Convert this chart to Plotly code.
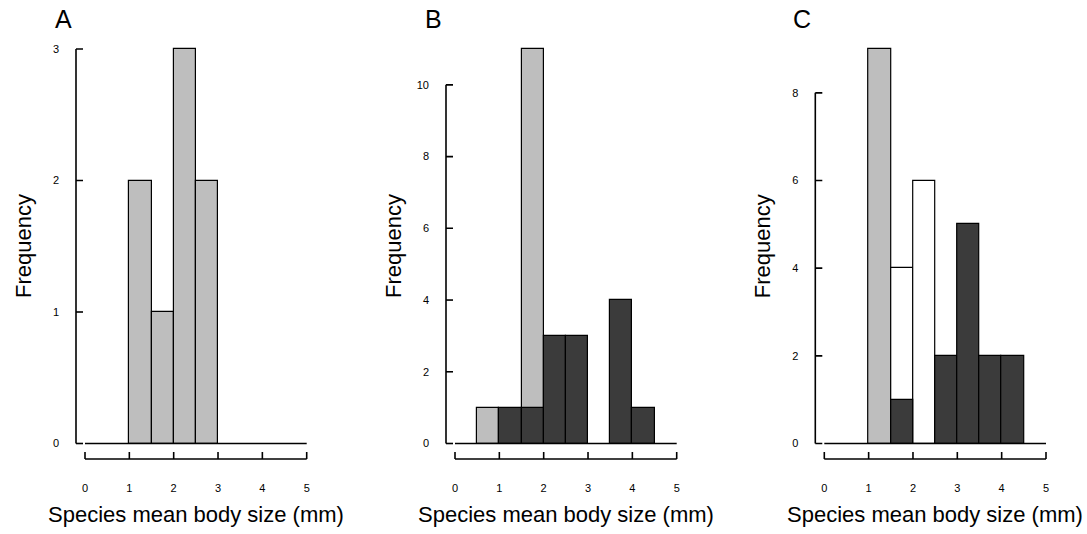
import plotly.graph_objects as go

# ---------------- data ----------------
bin_centers = [0.25, 0.75, 1.25, 1.75, 2.25, 2.75, 3.25, 3.75, 4.25, 4.75]
bin_width = 0.5
x_ticks = [0, 1, 2, 3, 4, 5]

a_grey = [0, 0, 2, 1, 3, 2, 0, 0, 0, 0]

b_grey = [0, 1, 0, 11, 0, 0, 0, 0, 0, 0]
b_dark = [0, 0, 1, 1, 3, 3, 0, 4, 1, 0]

c_grey = [0, 0, 9, 0, 0, 0, 0, 0, 0, 0]
c_white = [0, 0, 0, 4, 6, 0, 0, 0, 0, 0]
c_dark = [0, 0, 0, 1, 0, 2, 5, 2, 2, 0]

a_yticks = [0, 1, 2, 3]
b_yticks = [0, 2, 4, 6, 8, 10]
c_yticks = [0, 2, 4, 6, 8]

panel_labels = ["A", "B", "C"]
x_title = "Species mean body size (mm)"
y_title = "Frequency"

GREY = "#BEBEBE"
DARK = "#3B3B3B"
WHITE = "#FFFFFF"
FONT = "Liberation Sans, Arial, sans-serif"

# ---------------- layout geometry (pixels) ----------------
W, H = 1087, 534
x0_px = [85.0, 455.0, 824.3]   # pixel of x = 0 in each panel
sx = 44.34                     # px per x unit
y0_px = 443.5                  # pixel of y = 0
ytop_px = 49.0                 # pixel of the tallest bar
xaxis_px = 459.0               # x axis line pixel
yaxis_off = 9.0                # y axis line offset left of x = 0
ticklen = 7.0

panels = [
    dict(series=[(a_grey, GREY)], yticks=a_yticks),
    dict(series=[(b_grey, GREY), (b_dark, DARK)], yticks=b_yticks),
    dict(series=[(c_grey, GREY), (c_white, WHITE), (c_dark, DARK)], yticks=c_yticks),
]

fig = go.Figure()
annotations = []
layout_axes = {}

for i, p in enumerate(panels):
    n = "" if i == 0 else str(i + 1)
    xa, ya = "x" + n, "y" + n
    ymax = max(max(s) for s, _ in p["series"])
    sy = (y0_px - ytop_px) / ymax
    x0 = x0_px[i]
    ax_px = x0 - yaxis_off

    left_px, right_px = ax_px - 2, x0 + 5 * sx + 3
    top_px, bot_px = 44.0, xaxis_px + 2

    xr = [(left_px - x0) / sx, (right_px - x0) / sx]
    yr = [-(bot_px - y0_px) / sy, (y0_px - top_px) / sy]

    # bars
    for vals, col in p["series"]:
        fig.add_trace(go.Bar(
            x=bin_centers, y=[v if v else None for v in vals], width=bin_width,
            marker=dict(color=col, line=dict(color="black", width=1.2)),
            xaxis=xa, yaxis=ya, showlegend=False, hoverinfo="skip",
        ))

    # baseline at y = 0
    fig.add_trace(go.Scatter(
        x=[x_ticks[0], x_ticks[-1]], y=[0, 0], mode="lines",
        line=dict(color="black", width=1.6), xaxis=xa, yaxis=ya,
        showlegend=False, hoverinfo="skip",
    ))

    # y axis line + ticks (R style, offset)
    ax_x = -yaxis_off / sx
    yt = p["yticks"]
    lx, ly = [ax_x, ax_x], [yt[0], yt[-1]]
    for t in yt:
        lx += [None, ax_x, ax_x + ticklen / sx]
        ly += [None, t, t]
    # x axis line + ticks
    ax_y = -(xaxis_px - y0_px) / sy
    lx += [None, x_ticks[0], x_ticks[-1]]
    ly += [None, ax_y, ax_y]
    for t in x_ticks:
        lx += [None, t, t]
        ly += [None, ax_y, ax_y + ticklen / sy]
    fig.add_trace(go.Scatter(
        x=lx, y=ly, mode="lines", line=dict(color="black", width=1.6),
        xaxis=xa, yaxis=ya, showlegend=False, hoverinfo="skip",
    ))

    layout_axes["xaxis" + n] = dict(
        domain=[left_px / W, right_px / W], range=xr, anchor=ya,
        showgrid=False, zeroline=False, showline=False, ticks="",
        tickvals=x_ticks, ticktext=[str(t) for t in x_ticks],
        tickfont=dict(family=FONT, size=11, color="black"),
        ticklabelstandoff=19, fixedrange=True,
    )
    layout_axes["yaxis" + n] = dict(
        domain=[1 - bot_px / H, 1 - top_px / H], range=yr, anchor=xa,
        showgrid=False, zeroline=False, showline=False, ticks="",
        tickvals=yt, ticktext=[str(t) for t in yt],
        tickfont=dict(family=FONT, size=11, color="black"),
        ticklabelstandoff=14, fixedrange=True,
    )

    annotations.append(dict(
        text=y_title, xref="paper", yref="paper",
        x=(ax_px - 53) / W, y=1 - 246 / H, textangle=-90,
        xanchor="center", yanchor="middle", showarrow=False,
        font=dict(family=FONT, size=22, color="black"),
    ))
    annotations.append(dict(
        text=x_title, xref="paper", yref="paper",
        x=(x0 + 2.5 * sx) / W, y=1 - 514 / H,
        xanchor="center", yanchor="middle", showarrow=False,
        font=dict(family=FONT, size=22, color="black"),
    ))
    annotations.append(dict(
        text=panel_labels[i], xref="paper", yref="paper",
        x=(ax_px - 13) / W, y=1 - 19 / H,
        xanchor="center", yanchor="middle", showarrow=False,
        font=dict(family=FONT, size=25, color="black"),
    ))

fig.update_layout(
    width=W, height=H, margin=dict(l=0, r=0, t=0, b=0),
    paper_bgcolor="white", plot_bgcolor="white",
    barmode="overlay", bargap=0,
    annotations=annotations, showlegend=False,
    **layout_axes,
)

fig.write_html("out.html")
